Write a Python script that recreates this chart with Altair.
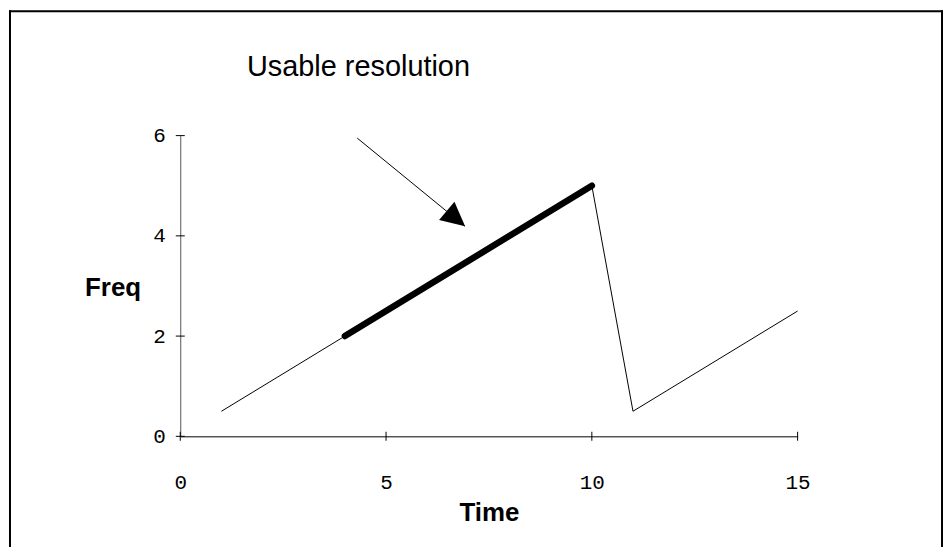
import altair as alt
import pandas as pd

# ---- data ----
time = [1, 4, 10, 11, 15]
freq = [0.5, 2, 5, 0.5, 2.5]
usable_time = [4, 10]
usable_freq = [2, 5]
arrow_x = [4.3, 6.92]
arrow_y = [5.95, 4.19]
x_ticks = [0, 5, 10, 15]
y_ticks = [0, 2, 4, 6]
title_text = "Usable resolution"

SANS = "Liberation Sans, Arial, Helvetica, sans-serif"
MONO = "Liberation Mono, Courier New, monospace"

xs = alt.Scale(domain=[0, 15], nice=False, zero=False)
ys = alt.Scale(domain=[0, 6], nice=False, zero=False)

x_axis = alt.Axis(values=x_ticks, ticks=False, grid=False, labelFont=MONO, labelFontSize=21,
                  labelColor="#000", labelPadding=35, labelFlush=False,
                  domainColor="#000", domainWidth=1,
                  title="Time", titleFont=SANS, titleFontSize=26, titleFontWeight="bold",
                  titleColor="#000", titleBaseline="alphabetic", titleY=85)
y_axis = alt.Axis(values=y_ticks, ticks=False, grid=False, labelFont=MONO, labelFontSize=21,
                  labelColor="#000", labelPadding=15, labelFlush=False,
                  domainColor="#555", domainWidth=1,
                  title="Freq", titleFont=SANS, titleFontSize=26, titleFontWeight="bold",
                  titleColor="#000", titleAngle=0, titleAlign="center",
                  titleBaseline="alphabetic", titleX=-68, titleY=161)

main_df = pd.DataFrame({"Time": time, "Freq": freq})
usable_df = pd.DataFrame({"Time": usable_time, "Freq": usable_freq})
arrow_df = pd.DataFrame({"Time": arrow_x, "Freq": arrow_y})
tip_df = arrow_df.iloc[[1]]
xt_df = pd.DataFrame({"Time": x_ticks, "Freq": [0] * len(x_ticks)})
yt_df = pd.DataFrame({"Time": [0] * len(y_ticks), "Freq": y_ticks})

thin = alt.Chart(main_df).mark_line(color="black", strokeWidth=1).encode(
    x=alt.X("Time:Q", scale=xs, axis=x_axis),
    y=alt.Y("Freq:Q", scale=ys, axis=y_axis),
    order=alt.Order("Time:Q"),
)
thick = alt.Chart(usable_df).mark_line(color="black", strokeWidth=6.5, strokeCap="round").encode(
    x=alt.X("Time:Q", scale=xs), y=alt.Y("Freq:Q", scale=ys)
)
arrow_line = alt.Chart(arrow_df).mark_line(color="black", strokeWidth=1).encode(
    x=alt.X("Time:Q", scale=xs), y=alt.Y("Freq:Q", scale=ys)
)
arrow_head = alt.Chart(tip_df).mark_point(
    shape="M0,0L-2,-1L-2,1Z", filled=True, color="black", opacity=1, size=576, angle=40,
    strokeWidth=0,
).encode(x=alt.X("Time:Q", scale=xs), y=alt.Y("Freq:Q", scale=ys))

xticks = alt.Chart(xt_df).mark_tick(orient="vertical", size=9, thickness=1, color="black",
                                    opacity=1).encode(
    x=alt.X("Time:Q", scale=xs), y=alt.Y("Freq:Q", scale=ys)
)
yticks = alt.Chart(yt_df).mark_tick(orient="horizontal", size=9, thickness=1, color="black",
                                    opacity=1).encode(
    x=alt.X("Time:Q", scale=xs), y=alt.Y("Freq:Q", scale=ys)
)

label = alt.Chart(alt.Data(values=[{"t": title_text}])).mark_text(
    font=SANS, fontSize=29, align="left", baseline="alphabetic", color="black"
).encode(text="t:N", x=alt.value(67), y=alt.value(-60))

one = alt.Data(values=[{}])
frame_left = alt.Chart(one).mark_rule(color="black", strokeWidth=2).encode(
    x=alt.value(-171), y=alt.value(-126), y2=alt.value(430))
frame_top = alt.Chart(one).mark_rule(color="black", strokeWidth=2).encode(
    x=alt.value(-172), x2=alt.value(766), y=alt.value(-125))
frame_right = alt.Chart(one).mark_rule(color="black", strokeWidth=2).encode(
    x=alt.value(765), y=alt.value(-126), y2=alt.value(430))

chart = alt.layer(
    thin, thick, arrow_line, arrow_head, xticks, yticks, label,
    frame_left, frame_top, frame_right,
).properties(
    width=620, height=302,
    autosize=alt.AutoSizeParams(type="none"),
    padding={"left": 173, "top": 127, "right": 146, "bottom": 110},
    background="white",
).configure_view(strokeWidth=0, stroke=None)

chart.save("out.html", embed_options={"renderer": "svg", "actions": False})
